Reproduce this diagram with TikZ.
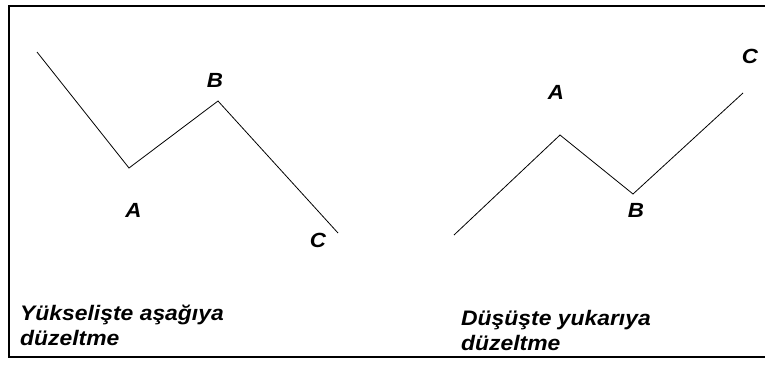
\documentclass[tikz,border=0pt]{standalone}
\usepackage{fontspec}
\setmainfont{Liberation Sans}
\newfontfamily\stretchsans[FakeStretch=1.09]{Liberation Sans}
\begin{document}
\begin{tikzpicture}[x=1pt,y=-1pt,
  wave/.style={draw=black,line width=0.8pt,line join=miter},
  lbl/.style={font=\stretchsans\fontsize{20.5}{24}\selectfont\bfseries\itshape,inner sep=0pt},
  captext/.style={font=\stretchsans\fontsize{21}{25}\selectfont\bfseries\itshape,inner sep=0pt,align=left,anchor=north west},
  boxframe/.style={draw=black,line width=2pt}]
\useasboundingbox (0,0) rectangle (765,365);
% frame
\draw[boxframe] (767,6) -- (9,6) -- (9,357) -- (767,357);
% left: correction down in an uptrend
\coordinate (l0) at (37,52);
\coordinate (lA) at (129,168);
\coordinate (lB) at (218,101);
\coordinate (lC) at (338,233);
\draw[wave] (l0) -- (lA) -- (lB) -- (lC);
\node[lbl] (tlA) at (133.5,210.5) {A};
\node[lbl] (tlB) at (215,80) {B};
\node[lbl] (tlC) at (318,240) {C};
\node[captext] (tl) at (20,305) {Yükselişte aşağıya\\düzeltme};
% right: correction up in a downtrend
\coordinate (r0) at (454,235);
\coordinate (rA) at (560,135);
\coordinate (rB) at (633,194);
\coordinate (rC) at (743,93);
\draw[wave] (r0) -- (rA) -- (rB) -- (rC);
\node[lbl] (trA) at (556,92) {A};
\node[lbl] (trB) at (636,210.5) {B};
\node[lbl] (trC) at (750,56) {C};
\node[captext] (tr) at (461,310) {Düşüşte yukarıya\\düzeltme};
\end{tikzpicture}
\end{document}
